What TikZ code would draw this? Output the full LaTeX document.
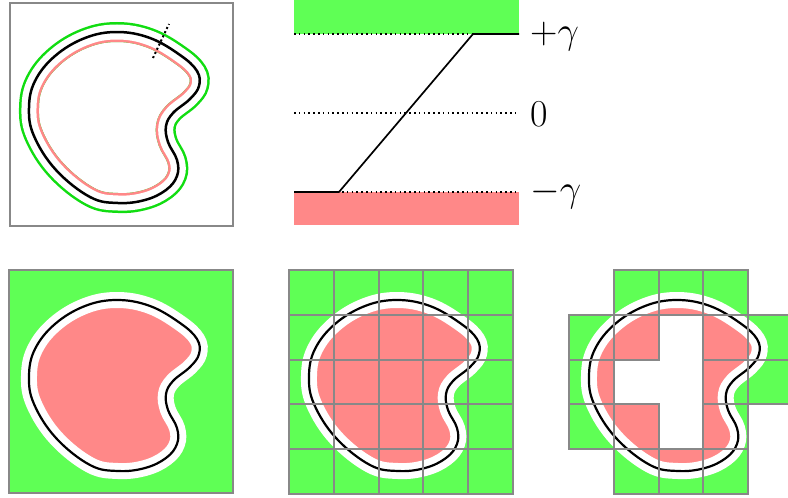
\RequirePackage{fix-cm}
\documentclass[tikz,border=0pt]{standalone}
\definecolor{fillgreen}{HTML}{5FFF55}
\definecolor{fillpink}{HTML}{FF8888}
\definecolor{linegreen}{HTML}{11DD11}
\definecolor{linepink}{HTML}{FF8888}
\definecolor{framegray}{HTML}{888888}
% the closed curve, in the coordinates of the upper-left panel
\newcommand{\blobcurve}{plot[smooth cycle, tension=0.65] coordinates {
  (117,32) (150,38) (180,55) (197,71) (199,86) (190,99) (173,113) (166,126)
  (168,142) (177,160) (177,176) (166,190) (145,200) (118,203) (90,197)
  (56,170) (34,136) (29,108) (35,81) (55,56) (85,38)}}
\tikzset{
  framebox/.style={draw=framegray, line width=2},
  curveline/.style={draw=black, line width=2.2},
  dotline/.style={line width=1.6, dash pattern=on 1.6 off 3.2},
  bigtext/.style={anchor=base west, inner sep=0, font=\fontsize{38}{44}\selectfont},
}
\begin{document}
\begin{tikzpicture}[x=1pt, y=-1pt]
\useasboundingbox (0,0) rectangle (788,498);

% ---- upper left: curve with its two offset curves
\begin{scope}
  \clip (9,2) rectangle (232,225);
  \draw[linegreen, line width=20] \blobcurve;
  \draw[white, line width=15] \blobcurve;
  \begin{scope}
    \clip \blobcurve;
    \draw[linepink, line width=20] \blobcurve;
    \draw[white, line width=15] \blobcurve;
  \end{scope}
  \draw[curveline, line width=2.5] \blobcurve;
\end{scope}
\coordinate (n1) at (153,58);
\coordinate (n2) at (169,24);
\draw[dotline, line width=2, dash pattern=on 2 off 2.6] (n1) -- (n2);
\node[framebox, minimum width=223, minimum height=223, inner sep=0, anchor=north west] (panelA) at (9,2) {};

% ---- upper right: the ramp between -gamma and +gamma
\fill[fillgreen] (294,0) rectangle (519,34);
\fill[fillpink] (294,192) rectangle (519,225);
\coordinate (tl) at (294,34);  \coordinate (tr) at (519,34);
\coordinate (ml) at (294,113); \coordinate (mr) at (519,113);
\coordinate (bl) at (294,192); \coordinate (br) at (519,192);
\coordinate (rampL) at (339,192); \coordinate (rampR) at (473,34);
\draw[dotline] (tl) -- (tr);
\draw[dotline] (ml) -- (mr);
\draw[dotline] (bl) -- (br);
\draw[line width=1.7, line join=round] (bl) -- (rampL) -- (rampR) -- (tr);
\node[bigtext] (plusg) at (530,43.5) {$+\gamma$};
\node[bigtext] (zero) at (530,126) {$0$};
\node[bigtext] (minusg) at (530,201.5) {$-\gamma$};

% ---- lower left: filled regions
\begin{scope}[shift={(0,268)}]
  \fill[fillgreen] (9,2) rectangle (233,225);
  \begin{scope}
    \clip (9,2) rectangle (233,225);
    \fill[fillpink] \blobcurve;
    \draw[white, line width=16] \blobcurve;
    \draw[curveline] \blobcurve;
  \end{scope}
  \draw[framebox] (9,2) rectangle (233,225);
\end{scope}

% ---- lower middle: full 5x5 grid
\begin{scope}[shift={(280,268)}]
  \fill[fillgreen] (9,2) rectangle (233,226);
  \begin{scope}
    \clip (9,2) rectangle (233,226);
    \fill[fillpink] \blobcurve;
    \draw[white, line width=16] \blobcurve;
    \draw[curveline] \blobcurve;
  \end{scope}
  \foreach \i in {0,...,4}
    \foreach \j in {0,...,4}
      \draw[framebox] ({9+44.8*\i},{2+44.8*\j}) rectangle +(44.8,44.8);
\end{scope}

% ---- lower right: grid with some cells left out
\begin{scope}[shift={(560,268)}]
  \def\cells{1/0,2/0,3/0, 0/1,1/1,3/1,4/1, 0/2,3/2,4/2, 0/3,1/3,3/3, 1/4,2/4,3/4}
  \begin{scope}
    \clip \foreach \i/\j in \cells {({9+44.8*\i},{2+44.8*\j}) rectangle +(44.8,44.8)};
    \fill[fillgreen] (0,0) rectangle (240,240);
    \fill[fillpink] \blobcurve;
    \draw[white, line width=16] \blobcurve;
    \draw[curveline] \blobcurve;
  \end{scope}
  \foreach \i/\j in \cells
    \draw[framebox] ({9+44.8*\i},{2+44.8*\j}) rectangle +(44.8,44.8);
\end{scope}
\end{tikzpicture}
\end{document}
